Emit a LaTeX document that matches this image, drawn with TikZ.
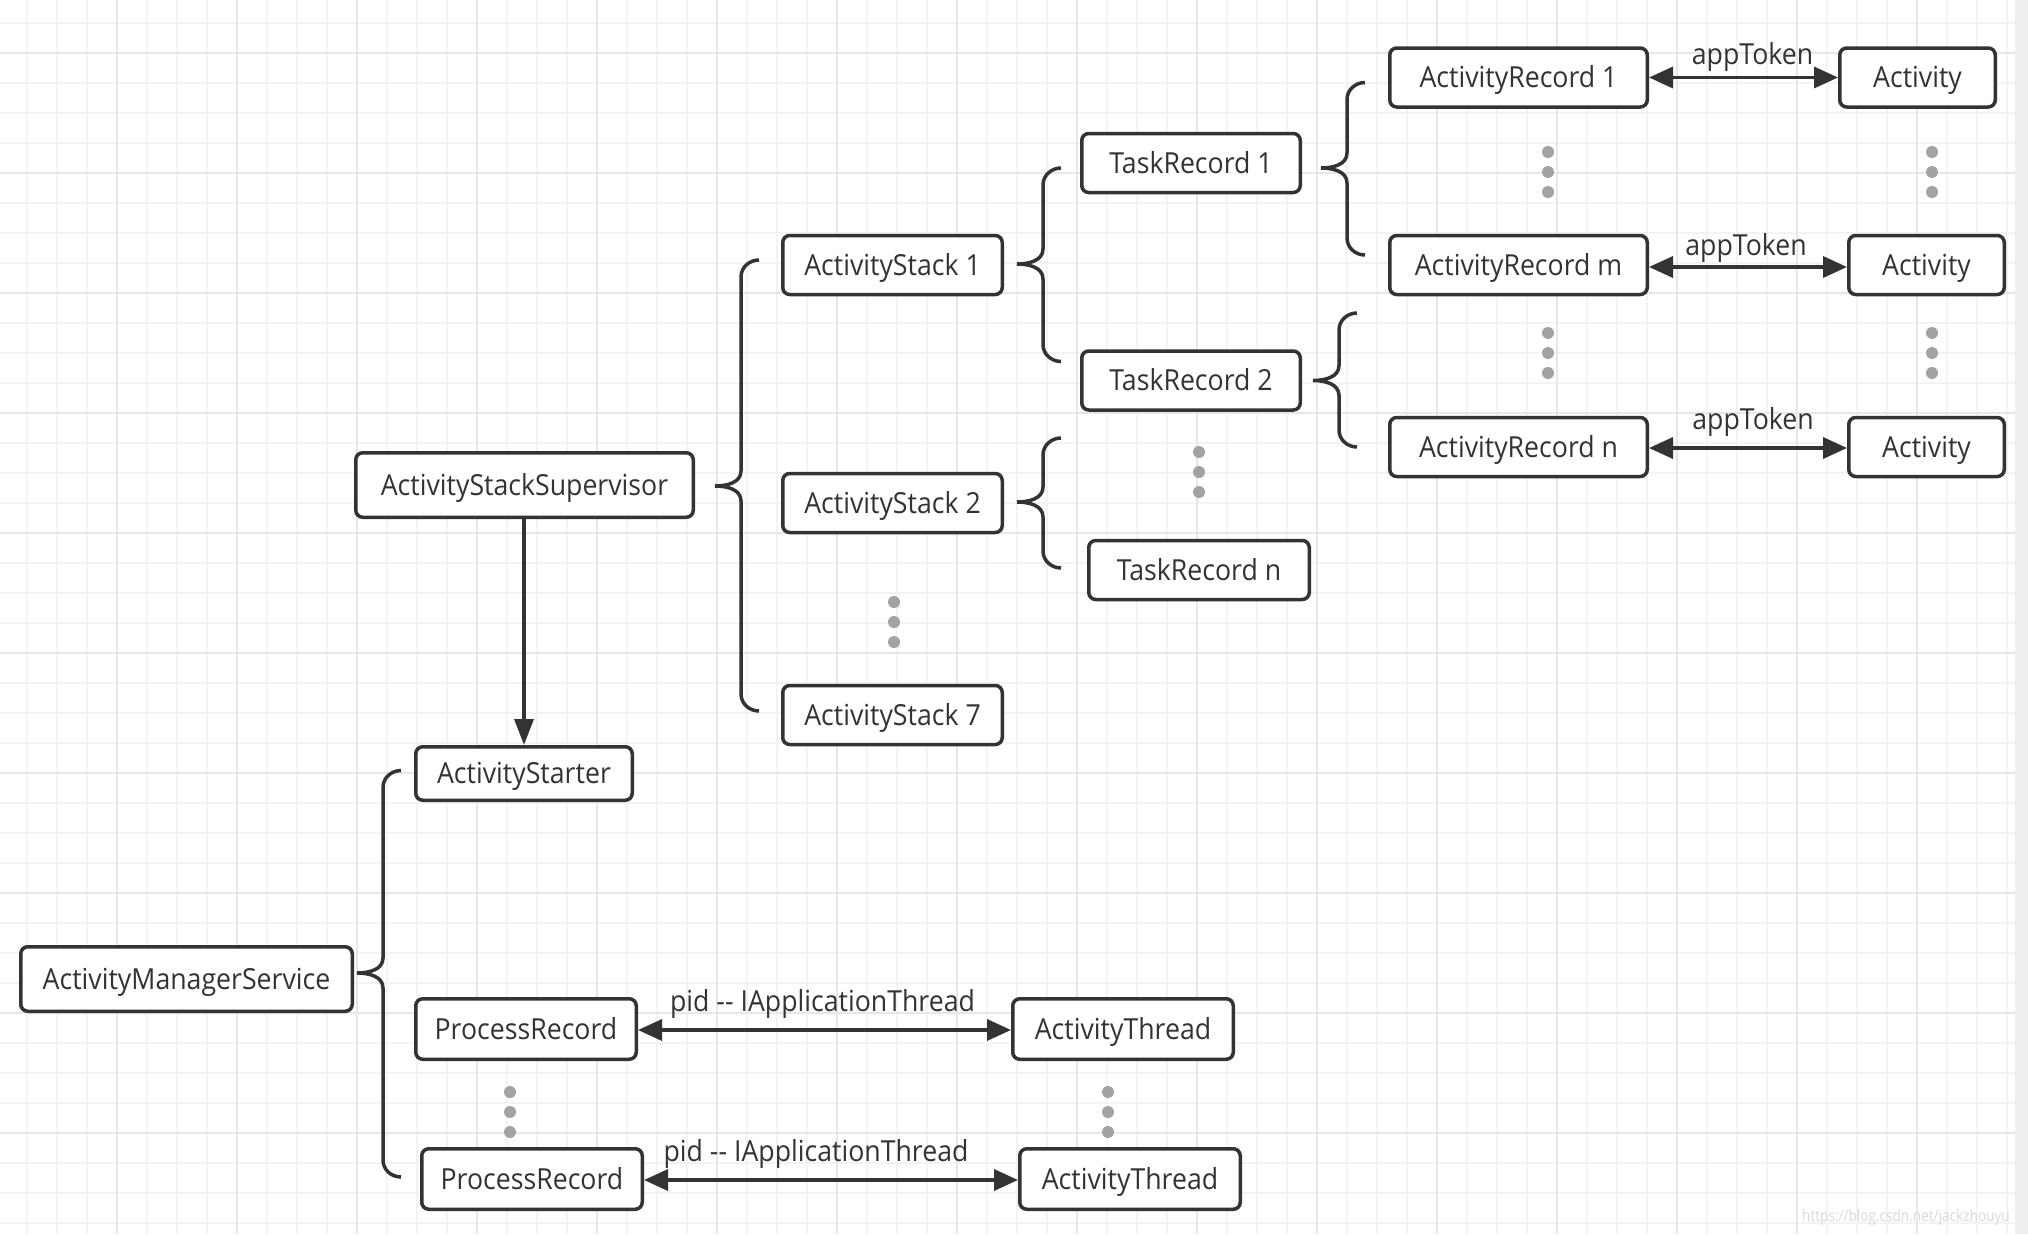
\documentclass[tikz,border=0pt]{standalone}
\usepackage{fontspec}
\setmainfont{Open Sans}[FakeStretch=0.92]
\newfontfamily\wmfont{Open Sans}[FakeStretch=0.85]
\usetikzlibrary{arrows.meta,calc}
\definecolor{ink}{HTML}{333333}
\definecolor{gminor}{HTML}{F3F3F3}
\definecolor{gmajor}{HTML}{E7E7E7}
\definecolor{dotc}{HTML}{A3A3A3}
\definecolor{band}{HTML}{EFEFEF}
\definecolor{wmc}{HTML}{D9D9D9}
\newcommand\bxfont{\fontsize{29}{34}\selectfont}
% curly brace: tip, top end, bottom end (only y of the ends is used)
\newcommand\curly[3]{%
  \draw[bracestyle] let \p1=(#1), \p2=(#2), \p3=(#3) in
    (\x1+44pt,\y2) to[out=180,in=90] (\x1+26pt,\y2-17pt)
    -- (\x1+26pt,\y1+15pt) to[out=-90,in=0] (\p1)
    to[out=0,in=90] (\x1+26pt,\y1-15pt)
    -- (\x1+26pt,\y3+17pt) to[out=-90,in=180] (\x1+44pt,\y3);}
\tikzset{
  box/.style={draw=ink, line width=3.5pt, rounded corners=7pt, fill=white,
    text=ink, inner sep=0pt, minimum height=59pt, font=\bxfont,
    text height=21pt, text depth=1pt},
  bracestyle/.style={draw=ink, line width=3.5pt},
  dbl/.style={draw=ink, line width=3.5pt,
    {Triangle[length=24pt,width=21pt]}-{Triangle[length=24pt,width=21pt]}},
  sgl/.style={draw=ink, line width=3.5pt, -{Triangle[length=26pt,width=19pt]}},
  lbl/.style={text=ink, inner sep=0pt, font=\bxfont},
  dot/.style={fill=dotc},
}
\begin{document}
\begin{tikzpicture}[x=1pt,y=-1pt]
\useasboundingbox (0,0) rectangle (2028,1234);
\fill[white] (0,0) rectangle (2028,1234);
% grid
\foreach \gx in {27,57,...,2007} \draw[gminor, line width=2pt] (\gx,0) -- (\gx,1234);
\foreach \gy in {22.7,52.7,...,1230} \draw[gminor, line width=2pt] (0,\gy) -- (2015,\gy);
\foreach \gx in {117,237,...,1917} \draw[gmajor, line width=2pt] (\gx,0) -- (\gx,1234);
\foreach \gy in {52.7,172.7,...,1140} \draw[gmajor, line width=2pt] (0,\gy) -- (2015,\gy);
\fill[band] (2015,0) rectangle (2028,1234);

% nodes
\node[box, minimum width=257.5pt] (AR1) at (1518.5,77.5) {ActivityRecord 1};
\node[box, minimum width=155.5pt] (Act1) at (1917.5,77.5) {Activity};
\node[box, minimum width=257.5pt] (ARm) at (1518.5,265) {ActivityRecord m};
\node[box, minimum width=155.5pt] (Actm) at (1926.5,265) {Activity};
\node[box, minimum width=257.5pt] (ARn) at (1518.5,447) {ActivityRecord n};
\node[box, minimum width=155.5pt] (Actn) at (1926.5,447) {Activity};
\node[box, minimum width=218.5pt] (TR1) at (1191,163) {TaskRecord 1};
\node[box, minimum width=218.5pt] (TR2) at (1191,380.5) {TaskRecord 2};
\node[box, minimum width=220.5pt] (TRn) at (1199,570) {TaskRecord n};
\node[box, minimum width=219.5pt] (AS1) at (892.5,265) {ActivityStack 1};
\node[box, minimum width=219.5pt] (AS2) at (892.5,503) {ActivityStack 2};
\node[box, minimum width=219.5pt] (AS7) at (892.5,715) {ActivityStack 7};
\node[box, minimum width=337.5pt, minimum height=64.5pt] (ASS) at (524.5,485) {ActivityStackSupervisor};
\node[box, minimum width=216.5pt, minimum height=53.5pt] (AStarter) at (524,773.5) {ActivityStarter};
\node[box, minimum width=331.5pt, minimum height=64.5pt] (AMS) at (186.5,979) {ActivityManagerService};
\node[box, minimum width=220.5pt, minimum height=60.5pt] (PR1) at (526,1029) {ProcessRecord};
\node[box, minimum width=220.5pt, minimum height=60.5pt] (AT1) at (1123,1029) {ActivityThread};
\node[box, minimum width=220.5pt, minimum height=60.5pt] (PR2) at (532,1179) {ProcessRecord};
\node[box, minimum width=220.5pt, minimum height=60.5pt] (AT2) at (1130,1179) {ActivityThread};

% braces
\coordinate (b4top) at (1062,438);
\coordinate (b6top) at (1358,313);
\curly{$(ASS.east)+(20,1)$}{$(AS1.west)+(0,-5)$}{$(AS7.west)+(0,-4)$}
\curly{$(AMS.east)+(3,-6)$}{$(AStarter.west)+(0,-3)$}{$(PR2.west)+(0,-2)$}
\curly{$(AS1.east)+(13,-1)$}{$(TR1.west)+(0,5)$}{$(TR2.west)+(0,-19)$}
\curly{$(AS2.east)+(13,-1)$}{b4top}{$(TRn.west)+(0,-2)$}
\curly{$(TR1.east)+(19,5)$}{$(AR1.west)+(0,5)$}{$(ARm.west)+(0,-10)$}
\curly{$(TR2.east)+(11,0)$}{b6top}{ARn.west}

% arrows
\draw[sgl] (ASS.south -| AStarter.north) -- (AStarter.north);
\draw[dbl] (AR1.east) -- (Act1.west)
  node[lbl, midway, yshift=21pt, xshift=9pt] (L1) {appToken};
\draw[dbl] ($(ARm.east)+(0,2)$) -- ($(Actm.west)+(0,2)$)
  node[lbl, midway, yshift=19pt, xshift=-2pt] (L2) {appToken};
\draw[dbl] ($(ARn.east)+(0,1)$) -- ($(Actn.west)+(0,1)$)
  node[lbl, midway, yshift=26pt, xshift=5pt] (L3) {appToken};
\draw[dbl] ($(PR1.east)+(0,1)$) -- ($(AT1.west)+(0,1)$)
  node[lbl, midway, yshift=26pt, xshift=-2pt] (L4) {pid -{}- IApplicationThread};
\draw[dbl] ($(PR2.east)+(0,1)$) -- ($(AT2.west)+(0,1)$)
  node[lbl, midway, yshift=26pt, xshift=-15pt] (L5) {pid -{}- IApplicationThread};

% ellipsis dots
\foreach \dx/\dy in {894/602, 1199/452, 1548/152, 1548/333, 1932/152, 1932/333, 510/1092, 1108/1092}{
  \foreach \k in {0,20,40} \fill[dot] (\dx,\dy+\k) circle (6pt);
}

% watermark
\node[text=wmc, inner sep=0pt, font=\wmfont\fontsize{16}{19}\selectfont] (wm) at (1906,1217) {https://blog.csdn.net/jackzhouyu};
\end{tikzpicture}
\end{document}
